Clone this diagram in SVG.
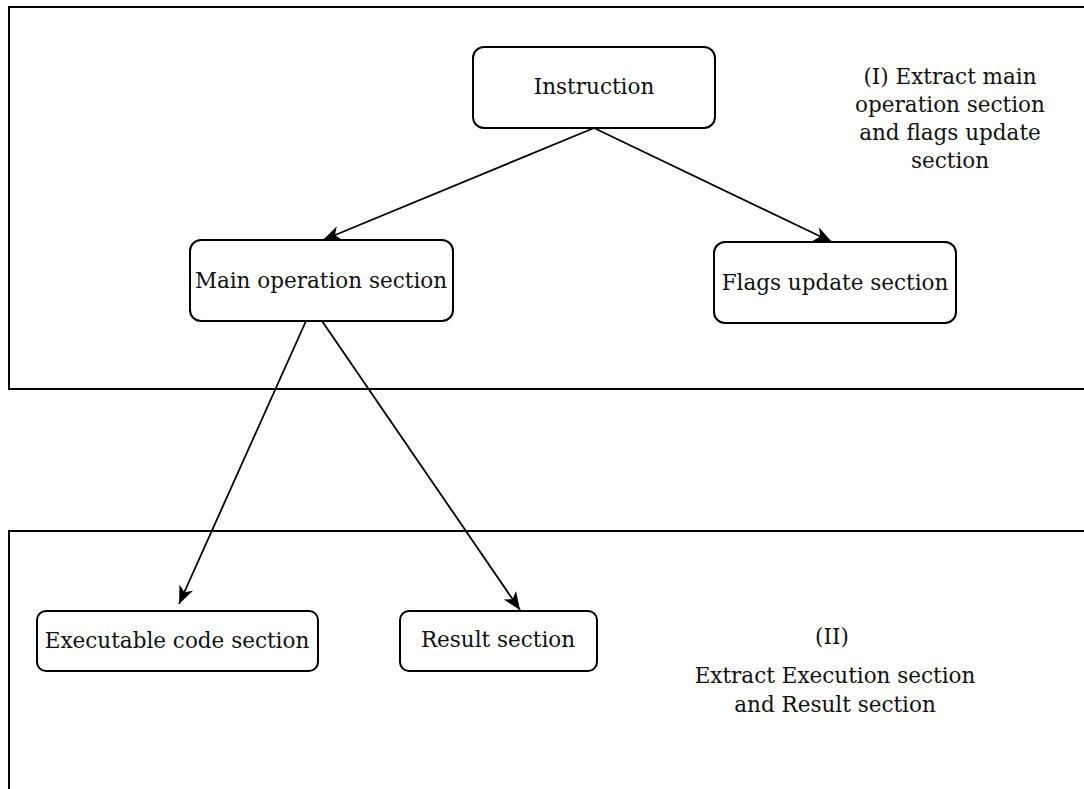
<svg xmlns="http://www.w3.org/2000/svg" width="1084" height="789" viewBox="0 0 1084 789">
  <style>
    .frame { fill: none; stroke: #000; stroke-width: 2; }
    .box { fill: #fff; stroke: #000; stroke-width: 2; }
    .lbl { font-family: "DejaVu Serif", "Liberation Serif", serif; font-size: 21.5px; fill: #111; text-anchor: middle; }
    .edge { fill: none; stroke: #000; stroke-width: 1.8; }
  </style>
  <defs>
    <marker id="arrow" markerUnits="userSpaceOnUse" markerWidth="20" markerHeight="16" refX="18" refY="7.5" orient="auto">
      <path d="M0,0 L18,7.5 L0,15 L5,7.5 z" fill="#000"/>
    </marker>
  </defs>
  <rect width="1084" height="789" fill="#fff"/>

  <!-- stage frames -->
  <g id="stage-1">
    <path class="frame" d="M1084,7 H9 V389 H1084"/>
    <text class="lbl" x="950" y="84">(I) Extract main</text>
    <text class="lbl" x="950" y="112">operation section</text>
    <text class="lbl" x="950" y="140">and flags update</text>
    <text class="lbl" x="950" y="168">section</text>
  </g>
  <g id="stage-2">
    <path class="frame" d="M1084,531 H9 V789"/>
    <text class="lbl" x="832" y="644">(II)</text>
    <text class="lbl" x="835" y="683">Extract Execution section</text>
    <text class="lbl" x="835" y="712">and Result section</text>
  </g>

  <!-- connectors -->
  <g id="connectors">
    <line class="edge" x1="594" y1="128" x2="323" y2="240" marker-end="url(#arrow)"/>
    <line class="edge" x1="594" y1="128" x2="832" y2="242" marker-end="url(#arrow)"/>
    <line class="edge" x1="306" y1="321" x2="179" y2="604" marker-end="url(#arrow)"/>
    <line class="edge" x1="322" y1="321" x2="520" y2="610" marker-end="url(#arrow)"/>
  </g>

  <!-- nodes -->
  <g id="instruction">
    <rect class="box" x="473" y="47" width="242" height="81" rx="11"/>
    <text class="lbl" x="594" y="94">Instruction</text>
  </g>
  <g id="main-operation">
    <rect class="box" x="190" y="240" width="263" height="81" rx="11"/>
    <text class="lbl" x="321" y="288">Main operation section</text>
  </g>
  <g id="flags-update">
    <rect class="box" x="714" y="242" width="242" height="81" rx="11"/>
    <text class="lbl" x="835" y="290">Flags update section</text>
  </g>
  <g id="executable-code">
    <rect class="box" x="37" y="611" width="281" height="60" rx="9"/>
    <text class="lbl" x="177" y="648">Executable code section</text>
  </g>
  <g id="result">
    <rect class="box" x="400" y="611" width="197" height="60" rx="9"/>
    <text class="lbl" x="498" y="647">Result section</text>
  </g>
</svg>
